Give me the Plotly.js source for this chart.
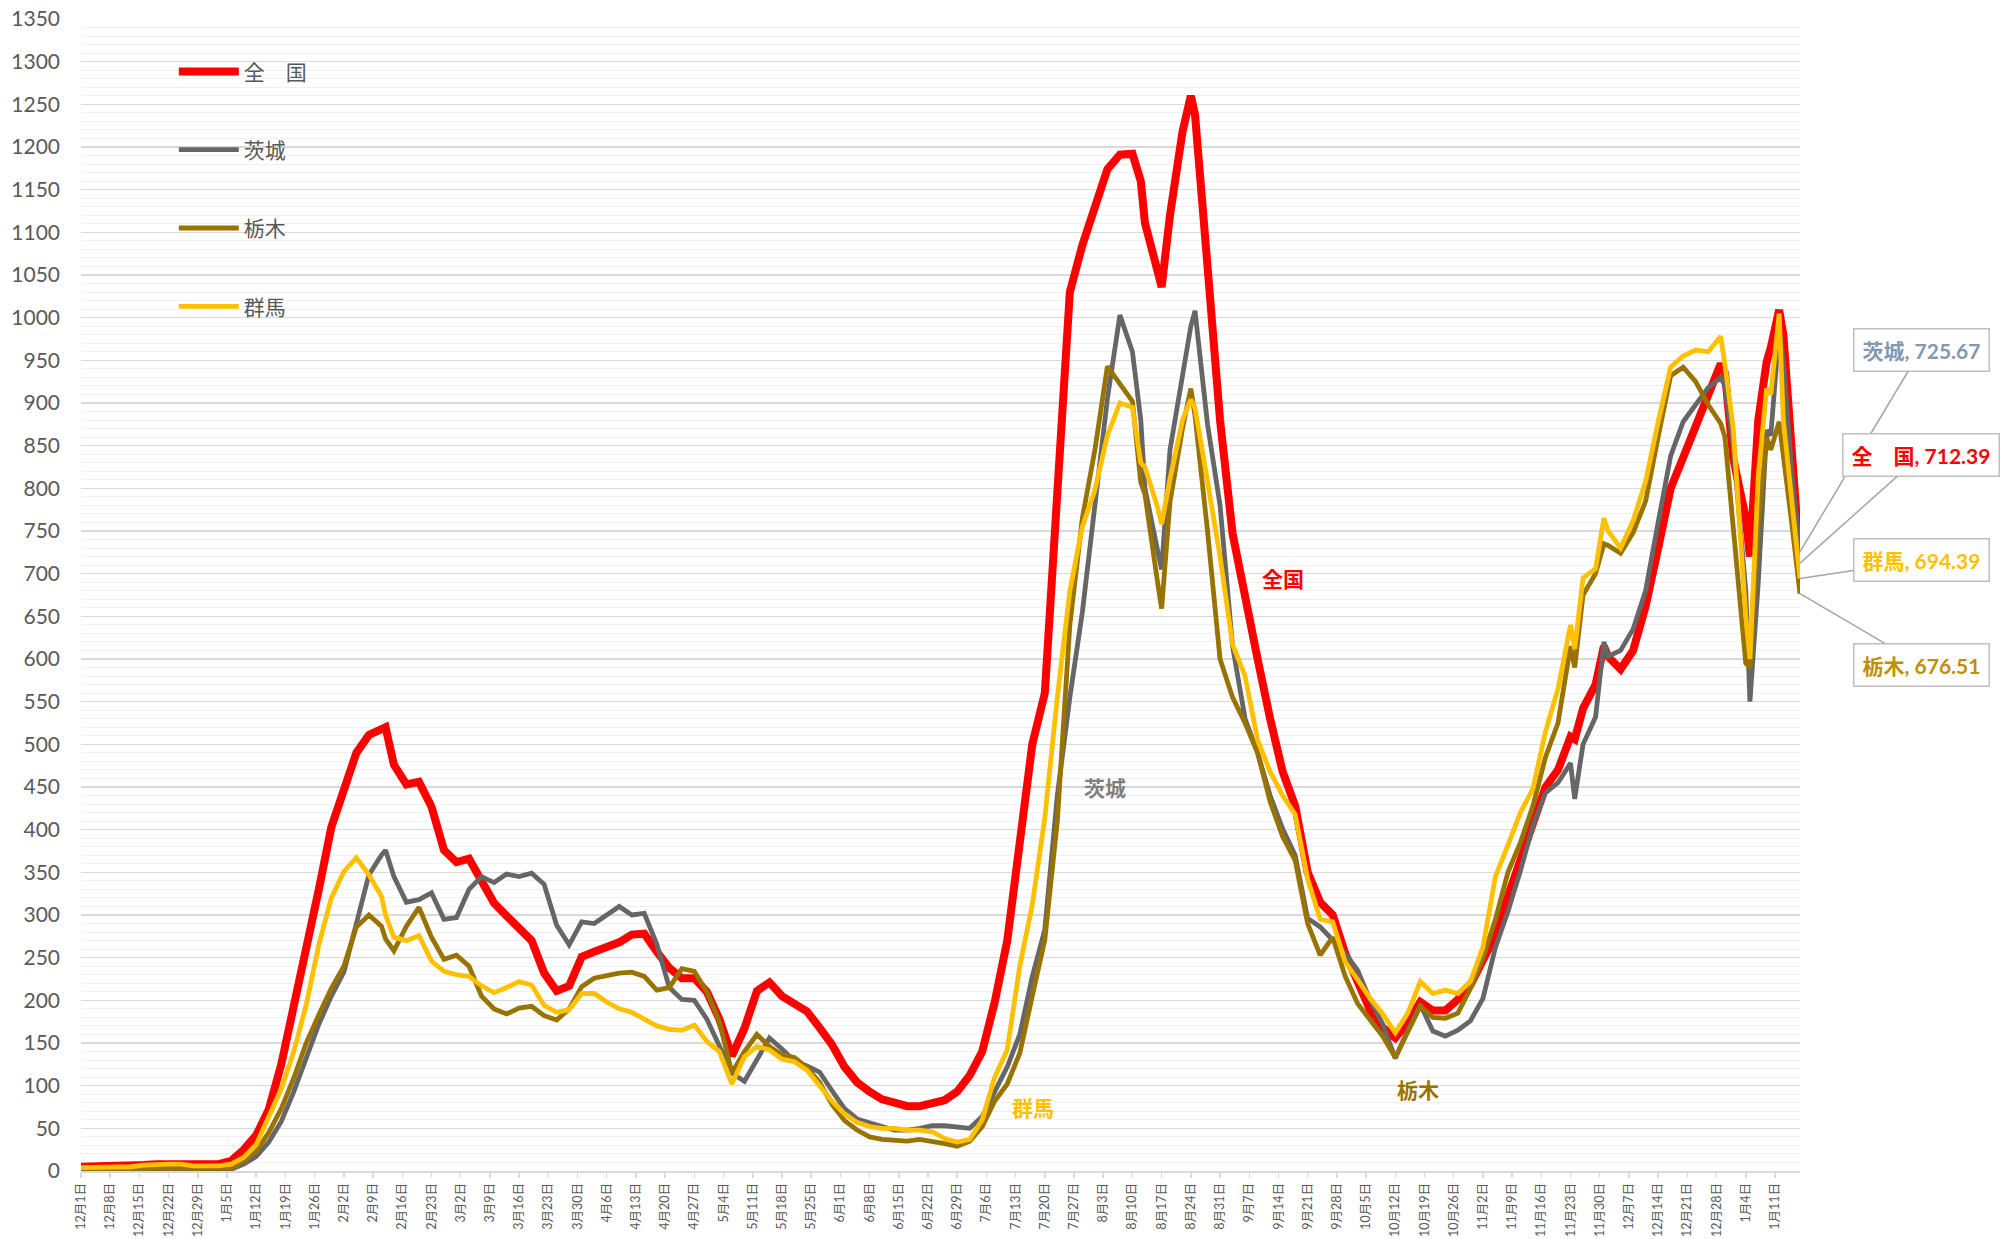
<!DOCTYPE html>
<html>
<head>
<meta charset="utf-8">
<script src="https://cdn.plot.ly/plotly-3.0.1.min.js"></script>
<style>
  html, body { margin: 0; padding: 0; background: #ffffff; overflow: hidden; }
  #chart { width: 2012px; height: 1239px; }
</style>
</head>
<body>
<div id="chart"></div>
<script>
// Day index counted from 2021-12-01 (category positions on the x axis)
const days = [
  0,3,6,9,12,15,18,21,24,27,30,33,
  36,39,42,45,48,51,54,57,60,63,66,69,72,73,
  75,78,81,84,87,90,93,96,99,102,105,108,111,
  114,117,120,123,126,129,132,135,138,141,144,147,150,
  153,156,159,162,165,168,171,174,177,180,183,186,189,
  192,195,198,201,204,207,210,213,216,219,222,225,228,
  231,234,237,240,243,246,249,252,
  254,255,258,259,261,264,266,267,
  270,273,276,279,282,285,288,291,294,297,300,303,306,
  309,312,315,318,321,324,327,330,333,336,339,342,345,
  348,351,354,357,358,360,363,365,366,
  369,372,375,378,381,384,387,390,393,
  394,396,399,400,402,404,405,407,408,410,412
];

// Weekly tick labels (one every 7 days)
const weekLabels = ["12月1日","12月8日","12月15日","12月22日","12月29日","1月5日","1月12日","1月19日","1月26日",
  "2月2日","2月9日","2月16日","2月23日","3月2日","3月9日","3月16日","3月23日","3月30日",
  "4月6日","4月13日","4月20日","4月27日","5月4日","5月11日","5月18日","5月25日",
  "6月1日","6月8日","6月15日","6月22日","6月29日","7月6日","7月13日","7月20日","7月27日",
  "8月3日","8月10日","8月17日","8月24日","8月31日","9月7日","9月14日","9月21日","9月28日",
  "10月5日","10月12日","10月19日","10月26日","11月2日","11月9日","11月16日","11月23日","11月30日",
  "12月7日","12月14日","12月21日","12月28日","1月4日","1月11日"];

const names = ["全　国", "茨城", "栃木", "群馬"];

const zenkoku = [
  5,5,6,6,6,7,8,8,8,7,7,8,
  12,25,42,72,125,190,262,330,403,448,490,511,518,520,
  476,453,456,427,376,362,366,338,314,299,286,270,232,
  211,217,251,257,263,268,277,278,257,238,226,226,210,
  178,135,167,211,221,205,197,187,168,148,122,104,93,
  84,80,76,76,79,83,93,112,140,198,270,378,500,
  560,780,1030,1085,1127,1174,1191,1192,
  1160,1111,1055,1036,1120,1218,1260,1238,
  1060,880,747,668,600,530,468,428,350,315,300,255,219,
  188,168,156,174,198,188,188,201,218,247,276,322,366,
  405,450,470,509,506,542,570,615,603,
  588,610,662,730,800,836,872,912,946,
  935,835,765,720,880,948,965,1009,980,840,712.39
];

const ibaraki = [
  1,1,1,1,1,1,2,2,1,1,1,1,
  2,8,17,34,58,93,131,172,205,233,290,347,370,376,
  345,315,318,326,295,297,330,345,338,348,345,349,336,
  288,265,292,290,300,310,300,302,266,215,201,200,178,
  147,115,105,130,156,143,129,123,116,94,73,61,56,
  52,48,48,50,53,53,51,50,64,93,122,160,228,
  283,440,555,655,780,905,1003,960,
  880,800,728,705,845,928,990,1008,
  875,780,615,530,490,440,401,370,296,286,270,255,235,
  200,172,132,165,195,164,158,165,176,202,262,304,352,
  405,443,455,478,436,500,532,620,603,
  610,635,680,760,838,878,898,918,930,
  920,849,680,550,690,868,862,985,950,820,725.67
];

const tochigi = [
  1,1,2,2,2,2,3,3,3,2,2,2,
  3,12,23,45,73,109,150,183,214,240,286,300,287,272,
  258,287,309,274,248,253,240,205,190,184,191,193,182,
  177,190,216,226,229,232,233,228,212,215,237,234,210,
  175,115,140,160,146,136,133,121,104,78,59,48,40,
  37,36,35,37,35,32,29,35,52,82,102,138,205,
  271,410,640,765,845,943,922,902,
  807,793,691,659,784,870,917,885,
  750,600,555,525,490,433,392,364,290,253,274,228,196,
  176,158,133,163,193,180,179,185,214,249,295,350,385,
  428,485,525,615,590,675,700,735,733,
  724,748,785,860,932,942,925,898,876,
  860,755,595,590,760,860,845,878,840,760,676.51
];

const gunma = [
  4,4,5,5,5,7,8,8,8,6,6,6,
  8,16,31,62,96,140,195,265,320,351,367,347,322,300,
  274,270,276,246,234,230,228,217,209,215,222,218,194,
  186,189,208,208,198,190,186,178,170,166,165,171,152,
  140,102,134,146,142,131,128,118,100,82,67,57,52,
  50,50,48,48,46,38,34,37,60,110,142,240,312,
  414,555,680,755,798,862,900,895,
  830,825,778,758,811,880,904,894,
  808,720,617,580,505,468,440,418,342,295,292,245,224,
  202,184,162,185,222,208,212,208,222,262,345,382,420,
  448,515,565,640,612,695,706,765,750,
  730,762,808,878,942,955,962,960,978,
  945,870,650,600,815,917,910,1005,880,780,694.39
];

const seriesValues = [zenkoku, ibaraki, tochigi, gunma];
const lineColors = ["#FF0000", "#666666", "#997300", "#FFC000"];
const lineWidths = [8, 4.8, 4.8, 4.8];
const boxTextColors = ["#FF0000", "#8497B0", "#BF9000", "#FFC000"];

seriesValues.forEach((s, i) => {
  if (s.length !== days.length) console.error("length mismatch", names[i], s.length, days.length);
});

const FONT = "Lato, 'Noto Sans CJK JP', 'Noto Sans', sans-serif";

const traces = seriesValues.map((vals, i) => ({
  type: "scatter",
  mode: "lines",
  x: days,
  y: vals,
  name: names[i],
  legendgroup: "g" + i,
  line: { color: lineColors[i], width: lineWidths[i], shape: "linear" },
  hoverinfo: "skip"
}));

const lastX = days[days.length - 1];

// End-of-line value labels (boxes at right)
const boxOffsets = [
  { idx: 1, ay: -202 },
  { idx: 0, ay: -108 },
  { idx: 3, ay: -18 },
  { idx: 2, ay: 71 }
];
const endLabels = boxOffsets.map(o => {
  const vals = seriesValues[o.idx];
  const last = vals[vals.length - 1];
  return {
    x: lastX, y: last, xref: "x", yref: "y",
    text: names[o.idx] + ", " + last.toFixed(2),
    showarrow: true, arrowhead: 0, arrowwidth: 1.5, arrowcolor: "#A6A6A6",
    ax: 121, ay: o.ay, axref: "pixel", ayref: "pixel",
    font: { family: FONT, size: 21, color: boxTextColors[o.idx], weight: "bold" },
    bgcolor: "#FFFFFF", bordercolor: "#BFBFBF", borderwidth: 1.5, borderpad: 8,
    xanchor: "center", yanchor: "middle"
  };
});

// In-chart series name labels
const inlineLabels = [
  { text: "全国", x: 288, y: 694, color: "#FF0000" },
  { text: "茨城", x: 245.4, y: 449, color: "#7F7F7F" },
  { text: "群馬", x: 228.2, y: 75, color: "#FFC000" },
  { text: "栃木", x: 320.5, y: 96, color: "#997300" }
].map(l => ({
  x: l.x, y: l.y, xref: "x", yref: "y", text: l.text, showarrow: false,
  font: { family: FONT, size: 21, color: l.color, weight: "bold" },
  xanchor: "center", yanchor: "middle"
}));

const layout = {
  width: 2012,
  height: 1239,
  margin: { l: 81, r: 212, t: 19, b: 68, pad: 0 },
  paper_bgcolor: "#FFFFFF",
  plot_bgcolor: "#FFFFFF",
  font: { family: FONT, color: "#595959" },
  showlegend: true,
  hovermode: false,
  legend: {
    x: 0.054, y: 0.972, xanchor: "left", yanchor: "top",
    bgcolor: "rgba(0,0,0,0)",
    font: { family: FONT, size: 21, color: "#595959" },
    tracegroupgap: 48,
    itemwidth: 60,
    traceorder: "grouped"
  },
  xaxis: {
    range: [0, lastX],
    tickmode: "array",
    tickvals: weekLabels.map((_, k) => k * 7),
    ticktext: weekLabels,
    tickangle: -90,
    tickfont: { family: FONT, size: 12.5, color: "#595959" },
    ticks: "outside", ticklen: 5, tickwidth: 1.5, tickcolor: "#D9D9D9",
    showgrid: false, zeroline: false,
    showline: true, linecolor: "#D9D9D9", linewidth: 2,
    automargin: false, fixedrange: true
  },
  yaxis: {
    range: [0, 1350],
    tick0: 0, dtick: 50,
    tickfont: { family: FONT, size: 21, color: "#595959" },
    ticks: "", ticklabelstandoff: 20,
    showgrid: true, gridcolor: "#D9D9D9", gridwidth: 1.5,
    minor: { dtick: 10, showgrid: true, gridcolor: "#F0F0F0", gridwidth: 1 },
    zeroline: false, showline: false,
    automargin: false, fixedrange: true
  },
  annotations: inlineLabels.concat(endLabels)
};

Plotly.newPlot("chart", traces, layout, { displayModeBar: false, staticPlot: true });
</script>
</body>
</html>
